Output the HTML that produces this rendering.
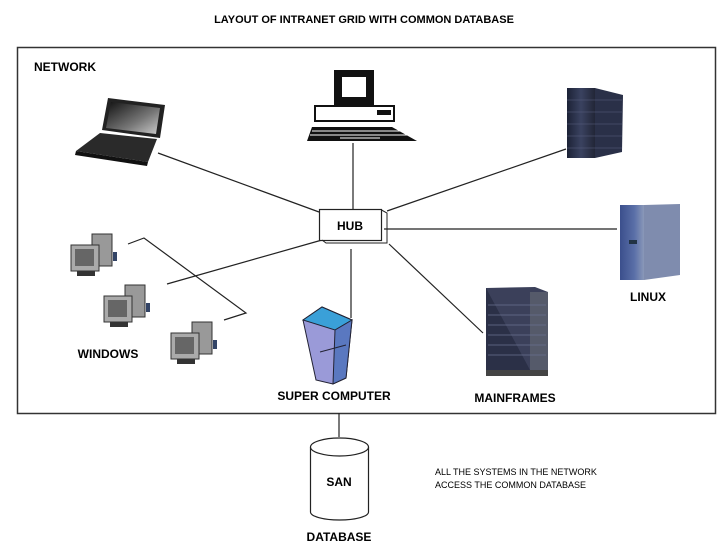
<!DOCTYPE html>
<html><head><style>
html,body{margin:0;padding:0;background:#fff;}
svg{display:block;font-family:"Liberation Sans",Arial,sans-serif;font-weight:bold;}
</style></head><body>
<svg width="728" height="546" viewBox="0 0 728 546" xmlns="http://www.w3.org/2000/svg">
<defs>
<linearGradient id="srv" x1="0" x2="1"><stop offset="0" stop-color="#1c2236"/><stop offset="0.5" stop-color="#3a4260"/><stop offset="1" stop-color="#222637"/></linearGradient>
<linearGradient id="lin" x1="0" x2="1"><stop offset="0" stop-color="#3b4f8c"/><stop offset="0.6" stop-color="#5a6fa8"/><stop offset="1" stop-color="#8a98b8"/></linearGradient>
<linearGradient id="scr" x1="0" y1="0" x2="1" y2="1"><stop offset="0" stop-color="#111"/><stop offset="0.6" stop-color="#777"/><stop offset="1" stop-color="#ccc"/></linearGradient>
</defs>
<text x="364" y="23" font-size="11" text-anchor="middle">LAYOUT OF INTRANET GRID WITH COMMON DATABASE</text>
<rect x="17.5" y="47.5" width="698" height="366" fill="none" stroke="#333" stroke-width="1.5"/>
<text x="34" y="71" font-size="12">NETWORK</text>

<g stroke="#222" stroke-width="1.2" fill="none">
<line x1="158" y1="153" x2="319" y2="212"/>
<line x1="353" y1="143" x2="353" y2="209"/>
<line x1="387" y1="211" x2="566" y2="149"/>
<line x1="384" y1="229" x2="617" y2="229"/>
<line x1="389" y1="244" x2="483" y2="333"/>
<line x1="351" y1="249" x2="351" y2="318"/>
<line x1="167" y1="284" x2="322" y2="240"/>
<polyline points="128,244 144,238 246,313 224,320"/>
<line x1="339" y1="413" x2="339" y2="437"/>
</g>

<rect x="319.5" y="209.5" width="62" height="31" fill="#fff" stroke="#222" stroke-width="1.2"/>
<polyline points="381.5,210 387,213 387,243 326,243 322,240" fill="none" stroke="#222"/>
<text x="350" y="230" font-size="12" text-anchor="middle">HUB</text>

<rect x="334" y="70" width="40" height="35" fill="#111"/>
<rect x="342" y="77" width="24" height="20" fill="#fff"/>
<rect x="315" y="106" width="79" height="15" fill="#fff" stroke="#111" stroke-width="2"/>
<rect x="377" y="110" width="14" height="5" fill="#111"/>
<polygon points="312,127 392,127 417,141 307,141" fill="#111"/>
<g stroke="#fff" stroke-width="1"><line x1="312" y1="131" x2="400" y2="131"/><line x1="310" y1="135" x2="408" y2="135"/><line x1="340" y1="138" x2="380" y2="138"/></g>

<polygon points="108,98 165,105 160,138 102,130" fill="#222"/>
<polygon points="111,102 160,108 156,134 106,128" fill="url(#scr)"/>
<polygon points="100,133 157,139 148,162 76,151" fill="#2a2a2a"/>
<polygon points="76,151 148,162 147,166 75,155" fill="#111"/>

<rect x="567" y="88" width="28" height="70" fill="url(#srv)"/>
<polygon points="595,88 623,95 622,152 595,158" fill="#2a3048"/>
<g stroke="#5a6080" stroke-width="0.6"><line x1="567" y1="100" x2="622" y2="100"/><line x1="567" y1="112" x2="622" y2="112"/><line x1="567" y1="124" x2="622" y2="124"/><line x1="567" y1="136" x2="622" y2="136"/><line x1="567" y1="148" x2="622" y2="148"/></g>

<rect x="620" y="205" width="24" height="75" fill="url(#lin)"/>
<polygon points="644,205 680,204 680,275 644,280" fill="#7f8cae"/>
<rect x="629" y="240" width="8" height="4" fill="#234"/>
<text x="648" y="301" font-size="12" text-anchor="middle">LINUX</text>

<rect x="486" y="288" width="44" height="82" fill="#2b3047"/>
<polygon points="486,288 535,287 548,292 548,370 530,370" fill="#3b405a"/>
<rect x="530" y="292" width="18" height="78" fill="#555a6a"/>
<g stroke="#6a7090" stroke-width="0.8"><line x1="488" y1="305" x2="546" y2="305"/><line x1="488" y1="315" x2="546" y2="315"/><line x1="488" y1="325" x2="546" y2="325"/><line x1="488" y1="335" x2="546" y2="335"/><line x1="488" y1="345" x2="546" y2="345"/><line x1="488" y1="355" x2="546" y2="355"/></g>
<rect x="486" y="370" width="62" height="6" fill="#444"/>
<text x="515" y="402" font-size="12" text-anchor="middle">MAINFRAMES</text>

<polygon points="303,320 322,307 352,320 346,378 333,384 316,380" fill="#9a9ad8" stroke="#223" stroke-width="1"/>
<polygon points="303,320 322,307 352,320 335,330" fill="#3aa0d8" stroke="#223"/>
<polygon points="335,330 352,320 346,378 333,384" fill="#5a78c0" stroke="#223"/>
<line x1="320" y1="352" x2="346" y2="345" stroke="#223"/>
<text x="334" y="400" font-size="12" text-anchor="middle">SUPER COMPUTER</text>

<g id="pc">
<rect x="92" y="234" width="20" height="32" fill="#999" stroke="#333"/>
<rect x="71" y="245" width="28" height="26" fill="#aaa" stroke="#333"/>
<rect x="75" y="249" width="19" height="17" fill="#666"/>
<rect x="77" y="271" width="18" height="5" fill="#333"/>
<rect x="113" y="252" width="4" height="9" fill="#346"/>
</g>
<use href="#pc" transform="translate(33,51)"/>
<use href="#pc" transform="translate(100,88)"/>
<text x="108" y="358" font-size="12" text-anchor="middle">WINDOWS</text>

<path d="M310.5,447 L310.5,512 A29,8 0 0 0 368.5,512 L368.5,447" fill="#fff" stroke="#222" stroke-width="1.2"/>
<ellipse cx="339.5" cy="447" rx="29" ry="9" fill="#fff" stroke="#222" stroke-width="1.2"/>
<text x="339" y="486" font-size="12" text-anchor="middle">SAN</text>
<text x="339" y="541" font-size="12" text-anchor="middle">DATABASE</text>
<text x="435" y="475" font-size="9" font-weight="normal">ALL THE SYSTEMS IN THE NETWORK</text>
<text x="435" y="488" font-size="9" font-weight="normal">ACCESS THE COMMON DATABASE</text>
</svg>
</body></html>
